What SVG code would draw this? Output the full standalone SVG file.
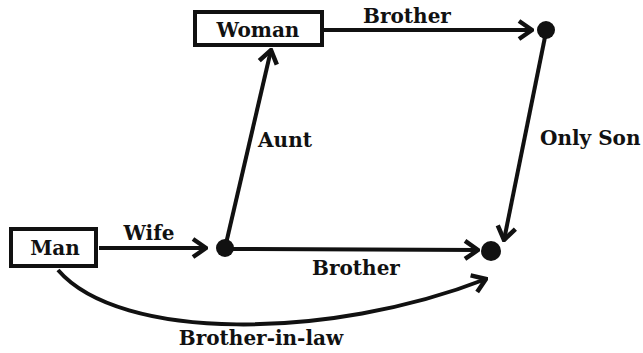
<svg xmlns="http://www.w3.org/2000/svg" width="643" height="353" viewBox="0 0 643 353">
<style>
.t{font-family:"DejaVu Serif",serif;font-weight:bold;font-size:20px;fill:#111}
.box{fill:#fff;stroke:#111;stroke-width:4}
.ln{fill:none;stroke:#111;stroke-width:4}
.dot{fill:#111}
</style>
<defs>
<marker id="ah" viewBox="-16 -12 18 24" markerWidth="18" markerHeight="24" refX="0" refY="0" orient="auto" markerUnits="userSpaceOnUse">
<path d="M-13,-9 L0,0 L-13,9" fill="none" stroke="#111" stroke-width="4.5" stroke-linejoin="miter"/>
</marker>
</defs>
<rect width="643" height="353" fill="#fff"/>
<g id="connectors">
<line class="ln" x1="323" y1="30" x2="532" y2="30" marker-end="url(#ah)"/>
<line class="ln" x1="99" y1="248" x2="206" y2="248" marker-end="url(#ah)"/>
<line class="ln" x1="225" y1="249" x2="478" y2="250" marker-end="url(#ah)"/>
<line class="ln" x1="225" y1="248" x2="271" y2="50" marker-end="url(#ah)"/>
<line class="ln" x1="546" y1="32" x2="504" y2="240" marker-end="url(#ah)"/>
<path class="ln" d="M58,270 C120,342 330,340 486,279" marker-end="url(#ah)"/>
<text class="t" x="407" y="23" text-anchor="middle">Brother</text>
<text class="t" x="149" y="240" text-anchor="middle">Wife</text>
<text class="t" x="285" y="147" text-anchor="middle">Aunt</text>
<text class="t" x="540" y="145">Only Son</text>
<text class="t" x="356" y="275" text-anchor="middle">Brother</text>
<text class="t" x="261" y="345" text-anchor="middle">Brother-in-law</text>
</g>
<g id="woman">
<rect class="box" x="195" y="12" width="127" height="33"/>
<text class="t" x="258" y="37" text-anchor="middle">Woman</text>
</g>
<g id="man">
<rect class="box" x="11" y="229" width="85" height="37"/>
<text class="t" x="55" y="255" text-anchor="middle">Man</text>
</g>
<g id="node-top-right"><circle class="dot" cx="546" cy="30" r="9"/></g>
<g id="node-mid"><circle class="dot" cx="225" cy="248" r="9"/></g>
<g id="node-bottom-right"><circle class="dot" cx="491" cy="251" r="10"/></g>
</svg>
